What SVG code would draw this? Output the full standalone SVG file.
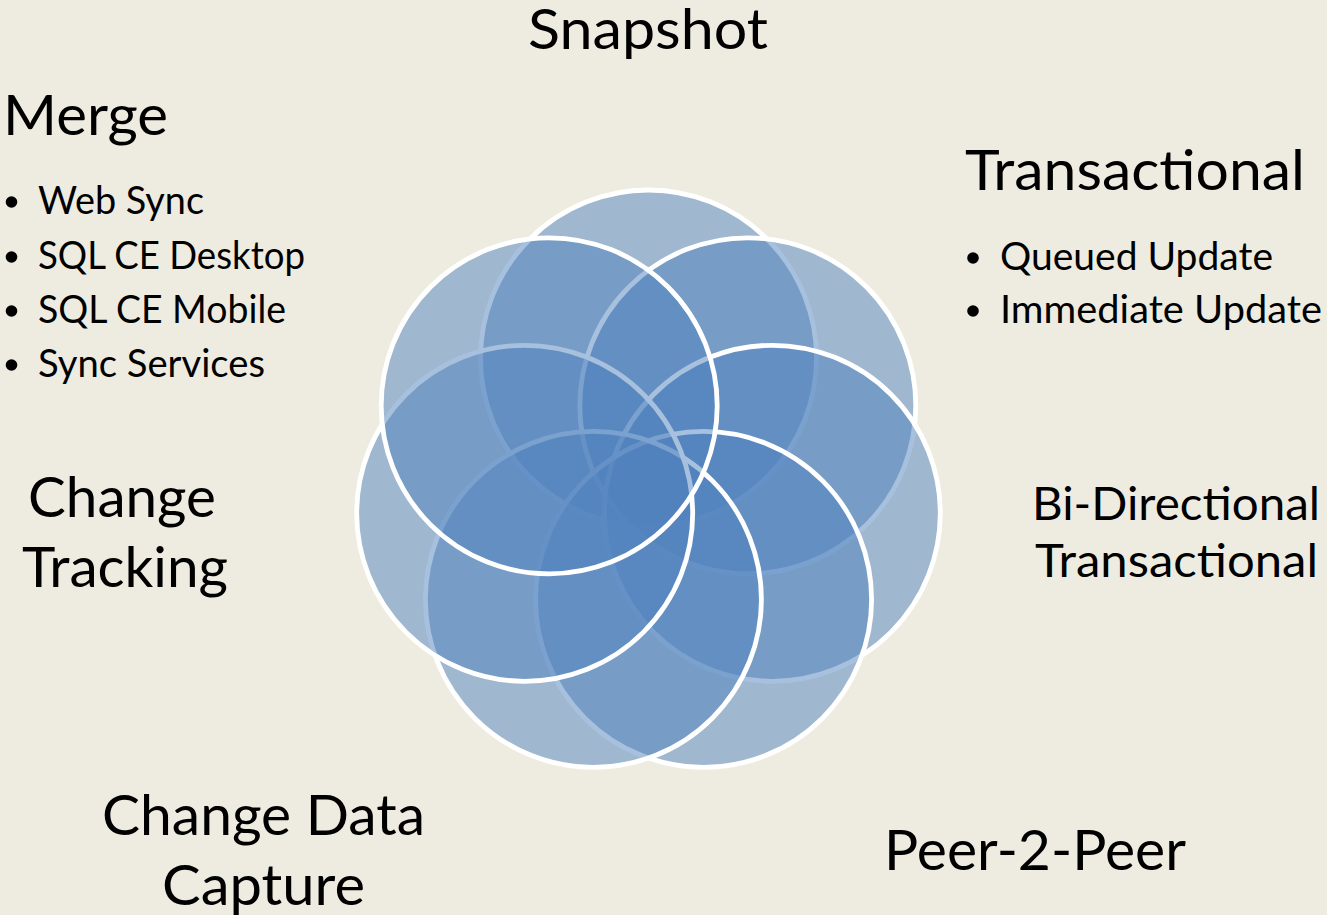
<svg xmlns="http://www.w3.org/2000/svg" width="1327" height="915" viewBox="0 0 1327 915">
  <style>
    .c { fill: rgba(79,129,189,0.5); stroke: #ffffff; stroke-width: 4.8; }
    .h { font-family: Lato, "Open Sans", "Liberation Sans", sans-serif; font-size: 57px; fill: #000000; }
    .h2 { font-family: Lato, "Open Sans", "Liberation Sans", sans-serif; font-size: 47px; fill: #000000; }
    .b { font-family: Lato, "Open Sans", "Liberation Sans", sans-serif; font-size: 38px; fill: #000000; }
    .dot { fill: #000000; }
  </style>
  <rect x="0" y="0" width="1327" height="915" fill="#eeece1"/>
  <g id="circles">
    <circle id="c-snapshot" class="c" cx="648.5" cy="358" r="168"/>
    <circle id="c-transactional" class="c" cx="747.8" cy="405.8" r="168"/>
    <circle id="c-bidir" class="c" cx="772.3" cy="513.3" r="168"/>
    <circle id="c-p2p" class="c" cx="703.6" cy="599.4" r="168"/>
    <circle id="c-cdc" class="c" cx="593.4" cy="599.4" r="168"/>
    <circle id="c-ct" class="c" cx="524.7" cy="513.3" r="168"/>
    <circle id="c-merge" class="c" cx="549.2" cy="405.8" r="168"/>
  </g>
  <g id="label-snapshot">
    <text class="h" x="528" y="49" textLength="240" lengthAdjust="spacingAndGlyphs">Snapshot</text>
  </g>
  <g id="label-merge">
    <text class="h" x="3" y="135" textLength="165" lengthAdjust="spacingAndGlyphs">Merge</text>
    <circle class="dot" cx="11.5" cy="202" r="5.8"/>
    <text class="b" x="38" y="214" textLength="166" lengthAdjust="spacingAndGlyphs">Web Sync</text>
    <circle class="dot" cx="11.5" cy="257" r="5.8"/>
    <text class="b" x="38" y="269" textLength="267" lengthAdjust="spacingAndGlyphs">SQL CE Desktop</text>
    <circle class="dot" cx="11.5" cy="311" r="5.8"/>
    <text class="b" x="38" y="323" textLength="248" lengthAdjust="spacingAndGlyphs">SQL CE Mobile</text>
    <circle class="dot" cx="11.5" cy="365" r="5.8"/>
    <text class="b" x="38" y="377" textLength="227" lengthAdjust="spacingAndGlyphs">Sync Services</text>
  </g>
  <g id="label-transactional">
    <text class="h" x="965" y="190" textLength="340" lengthAdjust="spacingAndGlyphs">Transactional</text>
    <circle class="dot" cx="973" cy="258" r="5.8"/>
    <text class="b" x="1000" y="270" textLength="273" lengthAdjust="spacingAndGlyphs">Queued Update</text>
    <circle class="dot" cx="973" cy="311" r="5.8"/>
    <text class="b" x="1000" y="323" textLength="322" lengthAdjust="spacingAndGlyphs">Immediate Update</text>
  </g>
  <g id="label-change-tracking">
    <text class="h" x="28" y="517" textLength="188" lengthAdjust="spacingAndGlyphs">Change</text>
    <text class="h" x="22" y="587" textLength="206" lengthAdjust="spacingAndGlyphs">Tracking</text>
  </g>
  <g id="label-bidir">
    <text class="h2" x="1032" y="520" textLength="288" lengthAdjust="spacingAndGlyphs">Bi-Directional</text>
    <text class="h2" x="1035" y="577" textLength="283" lengthAdjust="spacingAndGlyphs">Transactional</text>
  </g>
  <g id="label-cdc">
    <text class="h" x="102" y="835" textLength="323" lengthAdjust="spacingAndGlyphs">Change Data</text>
    <text class="h" x="162" y="905" textLength="203" lengthAdjust="spacingAndGlyphs">Capture</text>
  </g>
  <g id="label-p2p">
    <text class="h" x="884" y="870" textLength="302" lengthAdjust="spacingAndGlyphs">Peer-2-Peer</text>
  </g>
</svg>
